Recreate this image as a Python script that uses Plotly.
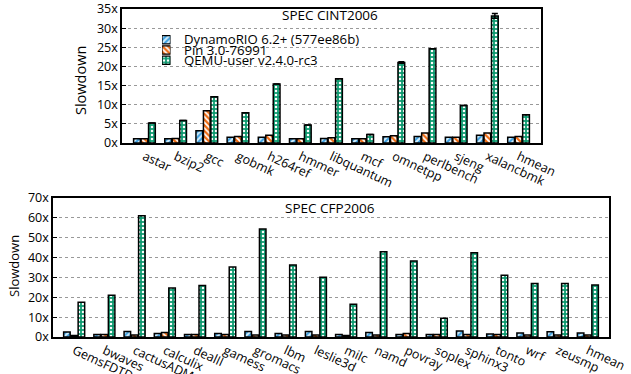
import plotly.graph_objects as go

int_bench = ["astar", "bzip2", "gcc", "gobmk", "h264ref", "hmmer", "libquantum",
             "mcf", "omnetpp", "perlbench", "sjeng", "xalancbmk", "hmean"]
int_dr = [1.1, 1.1, 3.2, 1.5, 1.5, 1.1, 1.2, 1.1, 1.6, 1.7, 1.5, 2.0, 1.5]
int_pin = [1.1, 1.2, 8.4, 1.7, 2.0, 1.1, 1.4, 1.1, 1.9, 2.6, 1.5, 2.6, 1.7]
int_qemu = [5.2, 5.9, 12.1, 7.9, 15.4, 4.7, 16.8, 2.2, 21.0, 24.6, 9.8, 33.2, 7.4]
int_qemu_err = [0, 0, 0, 0, 0, 0, 0, 0, 0.2, 0, 0, 0.6, 0]

fp_bench = ["GemsFDTD", "bwaves", "cactusADM", "calculix", "dealII", "gamess", "gromacs",
            "lbm", "leslie3d", "milc", "namd", "povray", "soplex", "sphinx3", "tonto",
            "wrf", "zeusmp", "hmean"]
fp_dr = [2.5, 1.3, 2.8, 1.7, 1.3, 1.8, 2.8, 1.8, 2.8, 1.3, 2.3, 1.3, 1.2, 3.0, 1.5, 2.0, 2.7, 2.0]
fp_pin = [0.8, 1.3, 1.0, 2.3, 1.3, 1.2, 1.0, 1.0, 1.0, 0.8, 1.0, 1.8, 1.2, 1.2, 1.2, 1.0, 1.0, 1.0]
fp_qemu = [17.5, 21.0, 61.0, 24.7, 25.9, 35.2, 54.4, 36.3, 30.1, 16.5, 42.9, 38.3, 9.5, 42.4,
           31.1, 26.9, 26.9, 26.2]

series_names = ["DynamoRIO 6.2+ (577ee86b)", "Pin 3.0-76991", "QEMU-user v2.4.0-rc3"]
int_ticks = [0, 5, 10, 15, 20, 25, 30, 35]
fp_ticks = [0, 10, 20, 30, 40, 50, 60, 70]

FONT = "Open Sans"
GREEN = "#0f9a70"
fills = ["#d6eefa", "white", GREEN]
shapes_ = ["/", "\\", "."]
fgs = ["#3a9ee0", "#ee6a10", "white"]
sols = [0.5, 0.55, 0.3]
sizes = [4, 4, 4]

def marker(i, lw=1.5):
    return dict(color=fills[i],
                pattern=dict(shape=shapes_[i], fgcolor=fgs[i], bgcolor=fills[i], size=sizes[i],
                             solidity=sols[i], fillmode="replace"),
                line=dict(color="black", width=lw))

fig = go.Figure()
int_vals = [int_dr, int_pin, int_qemu]
fp_vals = [fp_dr, fp_pin, fp_qemu]
for i in range(3):
    kw = {}
    if i == 2:
        kw["error_y"] = dict(type="data", array=int_qemu_err, color="black", thickness=1.5, width=3)
    fig.add_trace(go.Bar(x=int_bench, y=int_vals[i], name=series_names[i], marker=marker(i),
                         xaxis="x", yaxis="y", showlegend=False, **kw))
for i in range(3):
    fig.add_trace(go.Bar(x=fp_bench, y=fp_vals[i], name=series_names[i], marker=marker(i),
                         xaxis="x2", yaxis="y2", showlegend=False))

# legend key swatches (one small bar per series on a hidden axis)
for i in range(3):
    fig.add_trace(go.Bar(
        y=[series_names[i]], x=[1], orientation="h", width=0.8, xaxis="x3", yaxis="y3",
        offsetgroup="key", showlegend=False, hoverinfo="skip", marker=marker(i, 1.2)))

W, H = 631, 374
def dx(a, b):
    return [a / W, b / W]
def dy(top, bot):
    return [1 - bot / H, 1 - top / H]

axis_common = dict(showline=True, mirror=True, linecolor="black", linewidth=1.5,
                   tickfont=dict(family=FONT, size=12.5, color="black"), automargin=False)
yaxis_common = dict(axis_common, ticks="inside", ticklen=4, tickcolor="black", showgrid=True,
                    gridcolor="#999", griddash="dot", gridwidth=1, zeroline=False)
hidden = dict(visible=False, showgrid=False, zeroline=False, fixedrange=True)

def ann(text, x, y, size, **kw):
    d = dict(text=text, x=x / W, y=1 - y / H, xref="paper", yref="paper", showarrow=False,
             xanchor="center", yanchor="middle", font=dict(family=FONT, size=size))
    d.update(kw)
    return d

annotations = [
    ann("SPEC CINT2006", 330, 15, 13.5),
    ann("SPEC CFP2006", 330, 208, 13.5),
    ann("Slowdown", 81, 80, 14.5, textangle=-90),
    ann("Slowdown", 14, 266, 13, textangle=-90),
]
for k, name in enumerate(series_names):
    annotations.append(ann(name, 182, 39.5 + 10.3 * k, 13.2, xanchor="left"))

fig.update_layout(
    width=W, height=H, margin=dict(l=0, r=0, t=0, b=0),
    paper_bgcolor="white", plot_bgcolor="white",
    barmode="group", bargap=0.28, bargroupgap=0.1,
    font=dict(family=FONT, size=13, color="black"),
    showlegend=False,
    xaxis=dict(axis_common, domain=dx(122, 541), anchor="y", range=[-0.72, len(int_bench) - 0.28],
               tickangle=25, ticks="", showgrid=False),
    yaxis=dict(yaxis_common, domain=dy(9, 143), anchor="x", range=[0, 35],
               tickvals=int_ticks, ticktext=[f"{t}x" for t in int_ticks]),
    xaxis2=dict(axis_common, domain=dx(53, 609), anchor="y2", range=[-0.7, len(fp_bench) - 0.3],
                tickangle=25, ticks="", showgrid=False),
    yaxis2=dict(yaxis_common, domain=dy(198, 337), anchor="x2", range=[0, 70],
                tickvals=fp_ticks, ticktext=[f"{t}x" for t in fp_ticks]),
    xaxis3=dict(hidden, domain=dx(162, 170.5), anchor="y3", range=[0, 1]),
    yaxis3=dict(hidden, domain=dy(34.5, 65.5), anchor="x3", autorange="reversed", type="category"),
    shapes=[dict(type="rect", xref="paper", yref="paper", x0=152 / W, x1=388 / W,
                 y0=1 - 66 / H, y1=1 - 31 / H, fillcolor="white", line=dict(width=0), layer="between")],
    annotations=annotations,
)

fig.write_html("out.html")
